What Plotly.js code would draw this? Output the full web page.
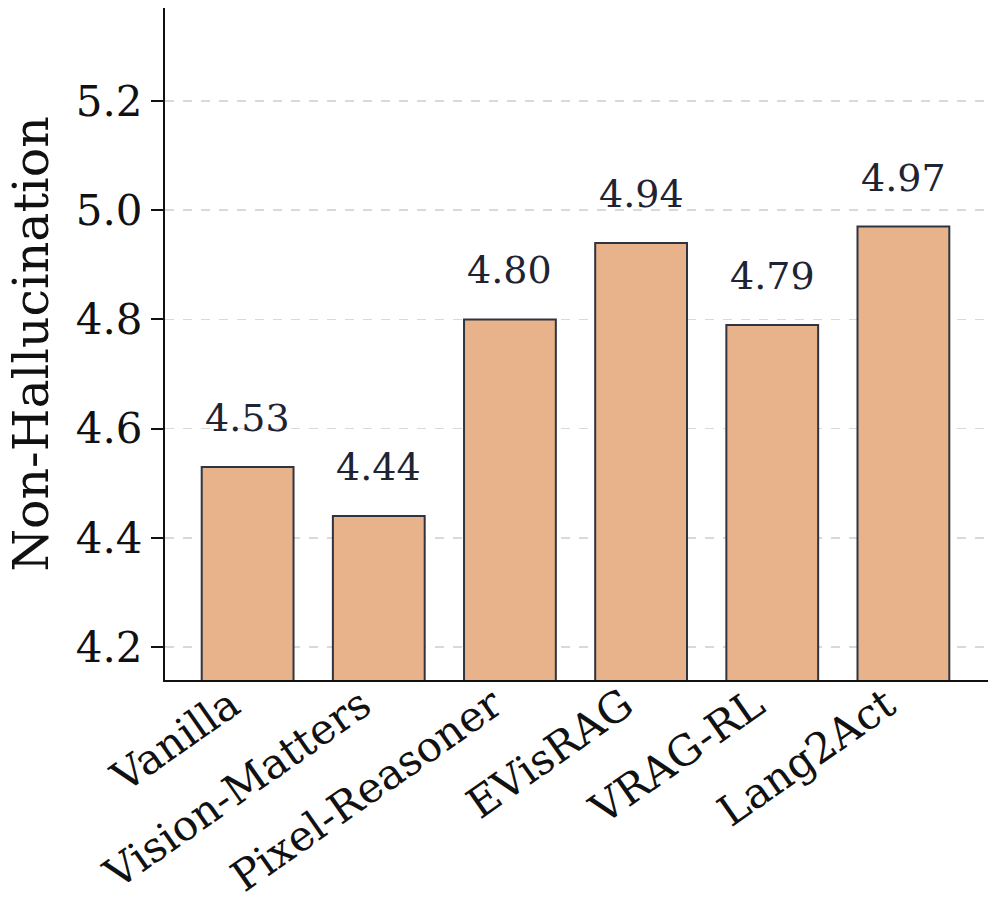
<!DOCTYPE html>
<html>
<head>
<meta charset="utf-8">
<script src="https://cdn.plot.ly/plotly-3.0.1.min.js"></script>
<style>html,body{margin:0;padding:0;background:#fff;}#chart{width:996px;height:908px;}</style>
</head>
<body>
<div id="chart"></div>
<script>
const categories = ["Vanilla", "Vision-Matters", "Pixel-Reasoner", "EVisRAG", "VRAG-RL", "Lang2Act"];
const values = [4.53, 4.44, 4.80, 4.94, 4.79, 4.97];
const valueLabels = ["4.53", "4.44", "4.80", "4.94", "4.79", "4.97"];
const yTicks = [4.2, 4.4, 4.6, 4.8, 5.0, 5.2];
const yTickLabels = ["4.2", "4.4", "4.6", "4.8", "5.0", "5.2"];

const font = "DejaVu Serif, serif";
const trace = {
  type: "bar",
  x: categories,
  y: values,
  width: 0.7,
  marker: {color: "#E8B38A", line: {color: "#2E3440", width: 2}},
  hoverinfo: "none"
};
const annotations = categories.map((c, i) => ({
  x: c, y: values[i], xref: "x", yref: "y",
  text: valueLabels[i], showarrow: false,
  yanchor: "bottom", yshift: 25,
  font: {family: font, size: 38, color: "#1F2433"}
}));
const layout = {
  width: 996, height: 908,
  margin: {l: 165, r: 8, t: 8, b: 228},
  paper_bgcolor: "#fff", plot_bgcolor: "#fff",
  showlegend: false,
  font: {family: font, color: "#111"},
  annotations: annotations,
  xaxis: {
    type: "category",
    range: [-0.63, 5.645],
    showline: true, linecolor: "#111", linewidth: 2,
    ticks: "", tickangle: -35, ticklabelstandoff: -18, ticklabelshift: -17,
    tickfont: {family: font, size: 42, color: "#111"},
    showgrid: false, zeroline: false
  },
  yaxis: {
    range: [4.14, 5.37],
    tickvals: yTicks, ticktext: yTickLabels,
    showline: true, linecolor: "#111", linewidth: 2,
    ticks: "outside", ticklen: 12, tickwidth: 2, tickcolor: "#111",
    tickfont: {family: font, size: 42, color: "#111"},
    showgrid: true, gridcolor: "#d9d9d9", griddash: "dash", gridwidth: 1.5,
    zeroline: false,
    title: {text: "Non-Hallucination", font: {family: font, size: 49, color: "#111"}, standoff: 12}
  }
};
Plotly.newPlot("chart", [trace], layout, {displayModeBar: false, staticPlot: true});
</script>
</body>
</html>
